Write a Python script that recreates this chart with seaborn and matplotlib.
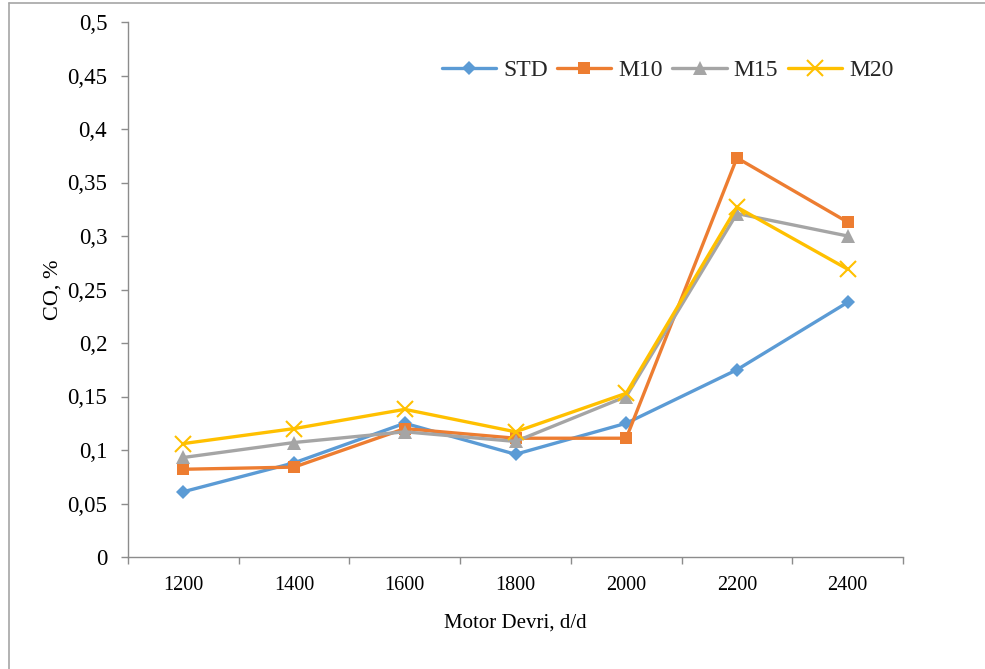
import matplotlib
matplotlib.use("Agg")
import matplotlib.pyplot as plt
from matplotlib.lines import Line2D
from matplotlib.ticker import FixedLocator, FixedFormatter
import pandas as pd
import seaborn as sns

# Engine speed (rpm) and CO emission (%) for each fuel blend
speeds = ["1200", "1400", "1600", "1800", "2000", "2200", "2400"]
std = [0.061, 0.088, 0.125, 0.096, 0.125, 0.175, 0.238]
m10 = [0.082, 0.084, 0.120, 0.111, 0.111, 0.373, 0.313]
m15 = [0.093, 0.107, 0.117, 0.108, 0.150, 0.321, 0.300]
m20 = [0.106, 0.120, 0.138, 0.117, 0.153, 0.327, 0.269]

series_names = ["STD", "M10", "M15", "M20"]
y_ticks = [0, 0.05, 0.1, 0.15, 0.2, 0.25, 0.3, 0.35, 0.4, 0.45, 0.5]
y_tick_labels = ["0", "0,05", "0,1", "0,15", "0,2", "0,25", "0,3", "0,35", "0,4", "0,45", "0,5"]

sns.set_theme(style="white")
plt.rcParams["font.family"] = ["Liberation Serif", "DejaVu Serif"]

palette = {"STD": "#5B9BD5", "M10": "#ED7D31", "M15": "#A5A5A5", "M20": "#FFC000"}
marker_style = {
    "STD": dict(marker="D", markersize=7.5, markeredgewidth=0),
    "M10": dict(marker="s", markersize=8, markeredgewidth=0),
    "M15": dict(marker="^", markersize=9.5, markeredgewidth=0),
    "M20": dict(marker="x", markersize=11, markeredgewidth=1.5),
}

fig = plt.figure(figsize=(9.85, 6.69), dpi=100)
ax = fig.add_axes([128 / 985, 112 / 669, 775 / 985, 535 / 669])

for name, vals in zip(series_names, [std, m10, m15, m20]):
    d = pd.DataFrame({"pos": range(len(speeds)), "CO": vals})
    sns.lineplot(data=d, x="pos", y="CO", color=palette[name], linewidth=2.4,
                 markeredgecolor=palette[name], ax=ax, label=name,
                 **marker_style[name])

ax.set_xlim(-0.5, len(speeds) - 0.5)
ax.set_ylim(0, 0.5)

ax.xaxis.set_major_locator(FixedLocator(range(len(speeds))))
ax.xaxis.set_major_formatter(FixedFormatter(speeds))
ax.xaxis.set_minor_locator(FixedLocator([i - 0.5 for i in range(len(speeds) + 1)]))
ax.yaxis.set_major_locator(FixedLocator(y_ticks))
ax.yaxis.set_major_formatter(FixedFormatter(y_tick_labels))

axis_grey = "#8C8C8C"
ax.tick_params(axis="x", which="major", length=0, pad=14, labelsize=14.5, colors="black")
ax.tick_params(axis="x", which="minor", length=5, width=1, color=axis_grey, direction="out", bottom=True)
ax.tick_params(axis="y", which="major", length=5, width=1, color=axis_grey, direction="out",
               left=True, pad=10, labelsize=16.5, labelcolor="black")

for side in ["top", "right"]:
    ax.spines[side].set_visible(False)
for side in ["left", "bottom"]:
    ax.spines[side].set_color(axis_grey)
    ax.spines[side].set_linewidth(1)

ax.set_xlabel("Motor Devri, d/d", fontsize=15, labelpad=13, color="black")
ax.set_ylabel("CO, %", fontsize=16, labelpad=3, color="black")

ax.legend(loc="upper right", bbox_to_anchor=(1.0, 0.948),
          ncol=4, frameon=False, fontsize=17, handlelength=2.3,
          handletextpad=0.3, columnspacing=0.4, borderaxespad=0)

# outer chart-area frame (left and top edges)
fig.add_artist(Line2D([9 / 985, 9 / 985], [0, 1 - 3 / 669], transform=fig.transFigure,
                      color="#A6A6A6", linewidth=1.2))
fig.add_artist(Line2D([9 / 985, 1], [1 - 3 / 669, 1 - 3 / 669], transform=fig.transFigure,
                      color="#A6A6A6", linewidth=1.2))

fig.savefig("out.png", dpi=100, facecolor="white")
